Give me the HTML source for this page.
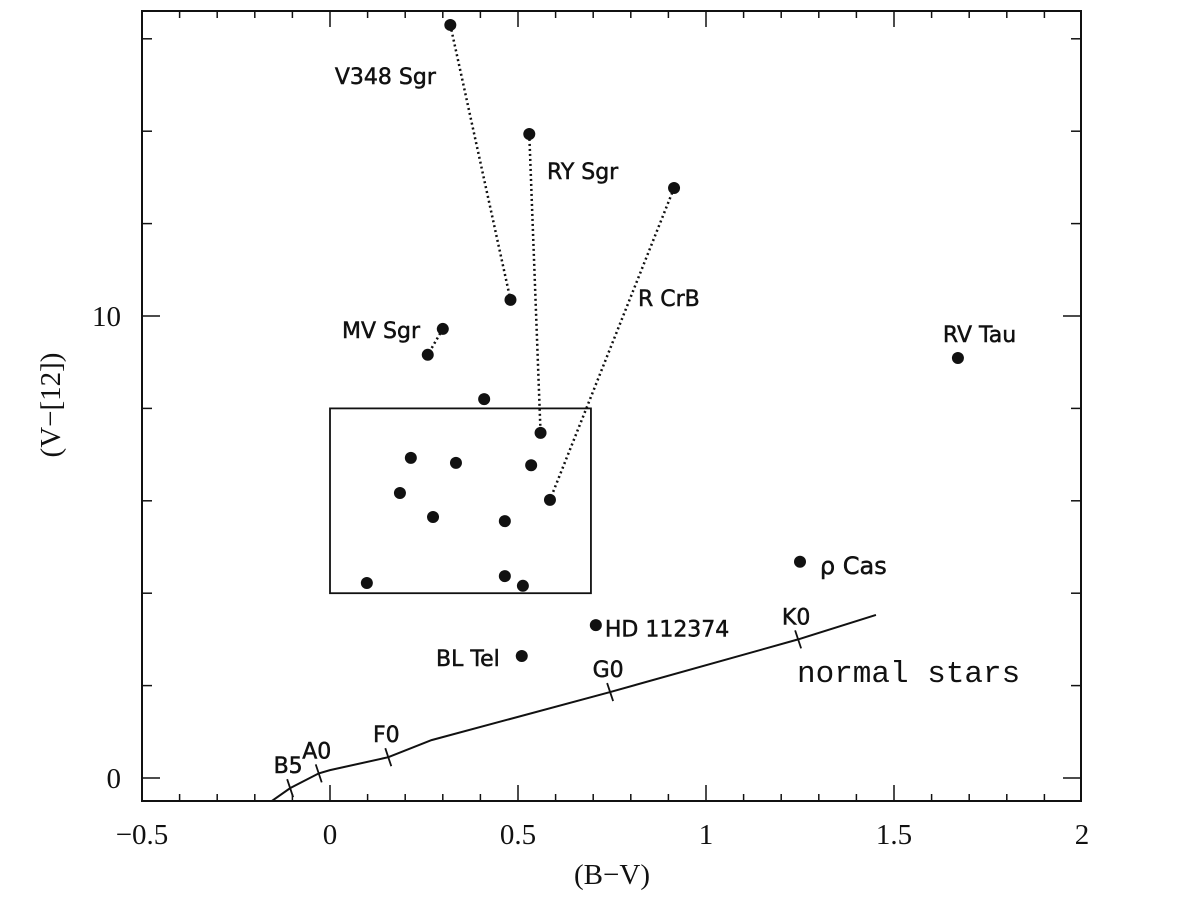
<!DOCTYPE html>
<html><head><meta charset="utf-8"><style>
body{margin:0;background:#fff}
svg{display:block}
.lab{font-family:"DejaVu Sans","Liberation Sans",sans-serif;font-size:22px;fill:#111;stroke:#111;stroke-width:0.5}
.tk{font-family:"Liberation Serif",serif;font-size:29px;fill:#111}
</style></head><body>
<svg id="chart" width="1200" height="905" viewBox="0 0 1200 905">
<rect x="142" y="11" width="939" height="790" fill="none" stroke="#111" stroke-width="2"/>
<g id="ticks"></g>
<g id="marks"></g>
<text class="tk" x="612" y="884" text-anchor="middle">(B−V)</text>
<text class="tk" transform="translate(60,405) rotate(-90)" text-anchor="middle">(V−[12])</text>
</svg>
<script>
const xTicks=[-0.5,0,0.5,1,1.5,2];
const xTickLabels=["−0.5","0","0.5","1","1.5","2"];
const yTicks=[0,10];
const yTickLabels=["0","10"];
const starNames=["V348 Sgr top","RY Sgr top","R CrB top","V348 Sgr","MV Sgr a","MV Sgr b","RV Tau","s1","RY Sgr","R CrB","s2","s3","s4","s5","s6","s7","rho Cas","s8","s9","s10","HD 112374","BL Tel"];
const starBV=[0.32,0.53,0.915,0.48,0.30,0.26,1.67,0.41,0.56,0.585,0.215,0.335,0.535,0.186,0.274,0.465,1.25,0.098,0.465,0.513,0.707,0.51];
const starV12=[16.3,13.94,12.77,10.35,9.72,9.16,9.09,8.2,7.47,6.02,6.93,6.82,6.77,6.17,5.65,5.56,4.68,4.22,4.37,4.16,3.31,2.64];
const links=[[0,3],[1,8],[2,9],[4,5]];
const normalBV=[-0.155,-0.106,-0.03,0.0,0.155,0.27,0.745,1.245,1.452];
const normalV12=[-0.5,-0.22,0.1,0.17,0.45,0.82,1.86,3.0,3.53];
const spTypes=["B5","A0","F0","G0","K0"];
const spBV=[-0.106,-0.03,0.155,0.745,1.245];
const spV12=[-0.22,0.1,0.45,1.86,3.0];
const boxBV=[0,0.694];
const boxV12=[4.0,8.0];
const labelText=["V348 Sgr","RY Sgr","R CrB","MV Sgr","RV Tau","ρ Cas","HD 112374","BL Tel"];
const labelBV=[0.013,0.577,0.819,0.032,1.63,1.303,0.731,0.282];
const labelV12=[15.02,12.96,10.22,9.52,9.44,4.42,3.06,2.42];

const X=v=>330+v*376, Y=v=>778-v*46.2;
const NS="http://www.w3.org/2000/svg";
function mk(tag,parent,attrs){const e=document.createElementNS(NS,tag);for(const k in attrs)e.setAttribute(k,attrs[k]);parent.appendChild(e);return e;}
const tg=document.getElementById('ticks'), mg=document.getElementById('marks');
for(let i=-5;i<=20;i++){const v=i/10;const x=X(v);if(x<143||x>1080)continue;const major=i%5===0;
 const t=mk('line',tg,{x1:x,x2:x,y1:801,y2:major?785:794,stroke:'#111','stroke-width':1.5});
 
 
 const t2=mk('line',tg,{x1:x,x2:x,y1:11,y2:major?27:18,stroke:'#111','stroke-width':1.5});
 
 }
for(let v=0;v<=16;v+=2){const y=Y(v);const major=v%10===0;
 const t=mk('line',tg,{x1:142,x2:major?160:152,y1:y,y2:y,stroke:'#111','stroke-width':1.5});
 
 
 const t2=mk('line',tg,{x1:1081,x2:major?1063:1071,y1:y,y2:y,stroke:'#111','stroke-width':1.5});
 
 }
xTicks.forEach((v,i)=>{const t=mk('text',tg,{x:X(v),y:844,'text-anchor':'middle',class:'tk'});t.textContent=xTickLabels[i];
 
 });
yTicks.forEach((v,i)=>{const t=mk('text',tg,{x:121,y:Y(v)+10,'text-anchor':'end',class:'tk'});t.textContent=yTickLabels[i];
 
 });
const box=mk('rect',mg,{x:X(boxBV[0]),y:Y(boxV12[1]),width:X(boxBV[1])-X(boxBV[0]),height:Y(boxV12[0])-Y(boxV12[1]),fill:'none',stroke:'#111','stroke-width':1.8});


const pl=mk('polyline',mg,{points:normalBV.map((v,i)=>X(v)+','+Y(normalV12[i])).join(' '),fill:'none',stroke:'#111','stroke-width':2});


spTypes.forEach((s,i)=>{const x=X(spBV[i]),y=Y(spV12[i]);
 const l=mk('line',mg,{x1:x-3,y1:y-9,x2:x+3,y2:y+9,stroke:'#111','stroke-width':1.8});
 
 
 const t=mk('text',mg,{x:x-2,y:y-15,'text-anchor':'middle',class:'lab'});t.textContent=s;
 
 });
const ns=mk('text',mg,{x:797,y:682,style:'font-family:"Liberation Mono",monospace;font-size:31px',fill:'#111'});ns.textContent='normal stars';


links.forEach(([a,b])=>{const l=mk('line',mg,{x1:X(starBV[a]),y1:Y(starV12[a]),x2:X(starBV[b]),y2:Y(starV12[b]),stroke:'#111','stroke-width':2.5,'stroke-dasharray':'2 3'});
 
 });
starBV.forEach((v,i)=>{const c=mk('circle',mg,{cx:X(v),cy:Y(starV12[i]),r:6,fill:'#111'});
 
 });
labelText.forEach((s,i)=>{const t=mk('text',mg,{x:X(labelBV[i]),y:Y(labelV12[i]),class:'lab'});t.textContent=s;
 if(s==='ρ Cas')t.setAttribute('style','font-size:24px');
 
 });
</script>
</body></html>
